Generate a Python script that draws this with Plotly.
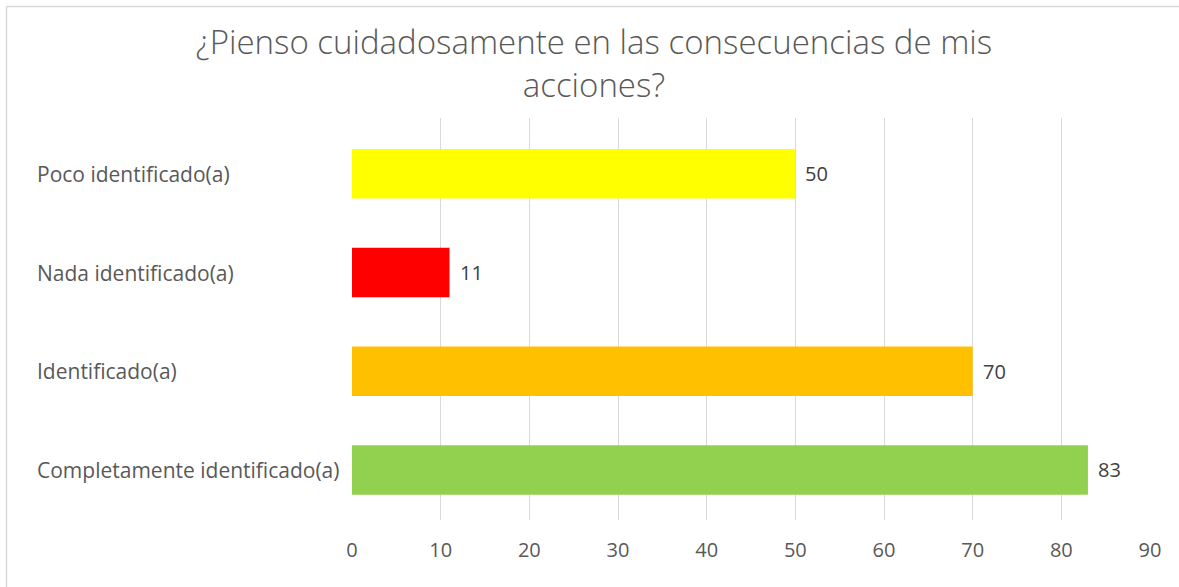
import plotly.graph_objects as go

# Responses, listed bottom-to-top as they appear on the category axis
categories = [
    "Completamente identificado(a)",
    "Identificado(a)",
    "Nada identificado(a)",
    "Poco identificado(a)",
]
values = [83, 70, 11, 50]
bar_colors = ["#92D050", "#FFC000", "#FF0000", "#FFFF00"]
x_ticks = [0, 10, 20, 30, 40, 50, 60, 70, 80, 90]

title_text = "¿Pienso cuidadosamente en las consecuencias de mis<br>acciones?"

W, H = 1179, 587
L, R, T, B = 352, 29, 118, 67
plot_w = W - L - R
plot_h = H - T - B

FONT = "Open Sans, Noto Sans, sans-serif"
label_font = dict(family=FONT, size=21, color="#595959")
tick_font = dict(family=FONT, size=20, color="#595959")
value_font = dict(family=FONT, size=20, color="#404040")

fig = go.Figure(
    go.Bar(
        y=categories,
        x=values,
        orientation="h",
        width=0.5,
        marker=dict(color=bar_colors, line=dict(width=0)),
        hoverinfo="skip",
    )
)

# Value labels just past the end of each bar
for cat, val in zip(categories, values):
    fig.add_annotation(
        x=val, xref="x", y=cat, yref="y",
        text=str(val), showarrow=False,
        xanchor="left", yanchor="middle", xshift=8,
        font=value_font,
    )

# Category labels, left-aligned in the margin
for cat in categories:
    fig.add_annotation(
        x=(35 - L) / plot_w, xref="paper",
        y=cat, yref="y",
        text=cat, showarrow=False,
        xanchor="left", yanchor="middle",
        font=label_font,
    )

# Chart frame edges
frame = dict(color="#D9D9D9", width=1.5)
fig.add_shape(type="line", xref="paper", yref="paper",
              x0=(6.5 - L) / plot_w, x1=(W - L) / plot_w,
              y0=(H - B - 6.5) / plot_h, y1=(H - B - 6.5) / plot_h, line=frame)
fig.add_shape(type="line", xref="paper", yref="paper",
              x0=(6.5 - L) / plot_w, x1=(6.5 - L) / plot_w,
              y0=(H - B - 6.5) / plot_h, y1=-B / plot_h, line=frame)

fig.update_layout(
    width=W,
    height=H,
    margin=dict(l=L, r=R, t=T, b=B, pad=0),
    paper_bgcolor="white",
    plot_bgcolor="white",
    showlegend=False,
    title=dict(
        text=title_text,
        x=594 / W,
        xref="container",
        xanchor="center",
        y=1 - 54 / H,
        yref="container",
        yanchor="middle",
        font=dict(family=FONT, size=33, color="#595959", weight=300),
    ),
    xaxis=dict(
        range=[0, 90],
        tickvals=x_ticks,
        showgrid=True,
        gridcolor="#D9D9D9",
        gridwidth=1,
        zeroline=False,
        showline=False,
        tickfont=tick_font,
        ticklabelstandoff=16,
        fixedrange=True,
    ),
    yaxis=dict(
        type="category",
        categoryorder="array",
        categoryarray=categories,
        range=[-0.507, 3.565],
        showticklabels=False,
        showgrid=False,
        zeroline=False,
        showline=False,
        fixedrange=True,
    ),
)

fig.write_html("out.html", config={"displayModeBar": False})
